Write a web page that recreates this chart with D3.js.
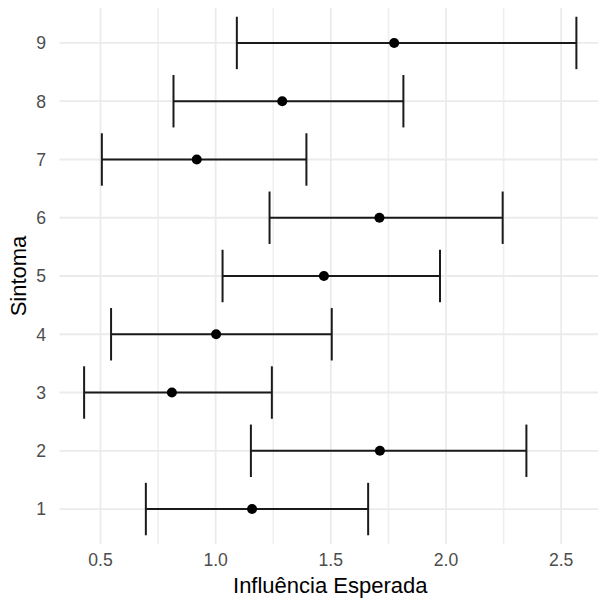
<!DOCTYPE html>
<html>
<head>
<meta charset="utf-8">
<script src="https://cdn.jsdelivr.net/npm/d3@7"></script>
<style>
  html, body { margin: 0; padding: 0; background: #fff; }
  svg { display: block; font-family: "Liberation Sans", Arial, Helvetica, sans-serif; }
</style>
</head>
<body>
<div id="chart"></div>
<script>
// Data
const sintomas = ['1', '2', '3', '4', '5', '6', '7', '8', '9'];
const estimate = [1.158, 1.713, 0.810, 1.002, 1.470, 1.711, 0.918, 1.289, 1.775];
const lower = [0.697, 1.153, 0.429, 0.546, 1.030, 1.234, 0.506, 0.817, 1.092];
const upper = [1.662, 2.349, 1.244, 1.504, 1.974, 2.246, 1.394, 1.815, 2.566];
const xTicks = [0.5, 1.0, 1.5, 2.0, 2.5];
const xMinor = [0.75, 1.25, 1.75, 2.25];

const width = 598;
const height = 601;
const panel = { left: 59.5, right: 601, top: 8, bottom: 544 };

const rows = sintomas.map((s, i) => ({ s, est: estimate[i], lo: lower[i], hi: upper[i] }));

// ggplot style 5% expansion on the continuous axis
const lo = d3.min(lower);
const hi = d3.max(upper);
const pad = (hi - lo) * 0.05;
const x = d3.scaleLinear().domain([lo - pad, hi + pad]).range([panel.left, panel.right]);
const y = d3.scalePoint().domain(sintomas).range([panel.bottom, panel.top]).padding(0.6);
const capHalf = y.step() * 0.45;

const svg = d3.select('#chart').append('svg')
  .attr('width', width)
  .attr('height', height);

const grid = svg.append('g').attr('class', 'grid');

// minor vertical grid
grid.selectAll('.minor')
  .data(xMinor)
  .enter()
  .append('line')
  .attr('x1', d => x(d)).attr('x2', d => x(d))
  .attr('y1', panel.top).attr('y2', panel.bottom)
  .attr('stroke', '#EFEFEF')
  .attr('stroke-width', 1.6);

// major vertical grid
grid.selectAll('.majorx')
  .data(xTicks)
  .enter()
  .append('line')
  .attr('x1', d => x(d)).attr('x2', d => x(d))
  .attr('y1', panel.top).attr('y2', panel.bottom)
  .attr('stroke', '#EBEBEB')
  .attr('stroke-width', 1.8);

// horizontal grid
grid.selectAll('.majory')
  .data(sintomas)
  .enter()
  .append('line')
  .attr('x1', panel.left).attr('x2', panel.right)
  .attr('y1', d => y(d)).attr('y2', d => y(d))
  .attr('stroke', '#EBEBEB')
  .attr('stroke-width', 1.8);

// error bars
const bars = svg.append('g').attr('class', 'errorbars')
  .selectAll('g')
  .data(rows)
  .enter()
  .append('g');

bars.append('line')
  .attr('x1', d => x(d.lo)).attr('x2', d => x(d.hi))
  .attr('y1', d => y(d.s)).attr('y2', d => y(d.s));

bars.append('line')
  .attr('x1', d => x(d.lo)).attr('x2', d => x(d.lo))
  .attr('y1', d => y(d.s) - capHalf).attr('y2', d => y(d.s) + capHalf);

bars.append('line')
  .attr('x1', d => x(d.hi)).attr('x2', d => x(d.hi))
  .attr('y1', d => y(d.s) - capHalf).attr('y2', d => y(d.s) + capHalf);

bars.selectAll('line')
  .attr('stroke', '#1a1a1a')
  .attr('stroke-width', 2);

// point estimates
bars.append('circle')
  .attr('cx', d => x(d.est))
  .attr('cy', d => y(d.s))
  .attr('r', 5)
  .attr('fill', '#000');

// tick labels
svg.append('g').selectAll('text')
  .data(xTicks)
  .enter()
  .append('text')
  .attr('x', d => x(d))
  .attr('y', 566)
  .attr('text-anchor', 'middle')
  .attr('fill', '#4D4D4D')
  .attr('font-size', '17.6px')
  .text(d => d3.format('.1f')(d));

svg.append('g').selectAll('text')
  .data(sintomas)
  .enter()
  .append('text')
  .attr('x', 46)
  .attr('y', d => y(d))
  .attr('dy', '0.36em')
  .attr('text-anchor', 'end')
  .attr('fill', '#4D4D4D')
  .attr('font-size', '17.6px')
  .text(d => d);

// axis titles
svg.append('text')
  .attr('x', (panel.left + panel.right) / 2)
  .attr('y', 593)
  .attr('text-anchor', 'middle')
  .attr('fill', '#000')
  .attr('font-size', '22px')
  .text('Influência Esperada');

svg.append('text')
  .attr('transform', `translate(26, ${(panel.top + panel.bottom) / 2}) rotate(-90)`)
  .attr('text-anchor', 'middle')
  .attr('fill', '#000')
  .attr('font-size', '22px')
  .text('Sintoma');
</script>
</body>
</html>
